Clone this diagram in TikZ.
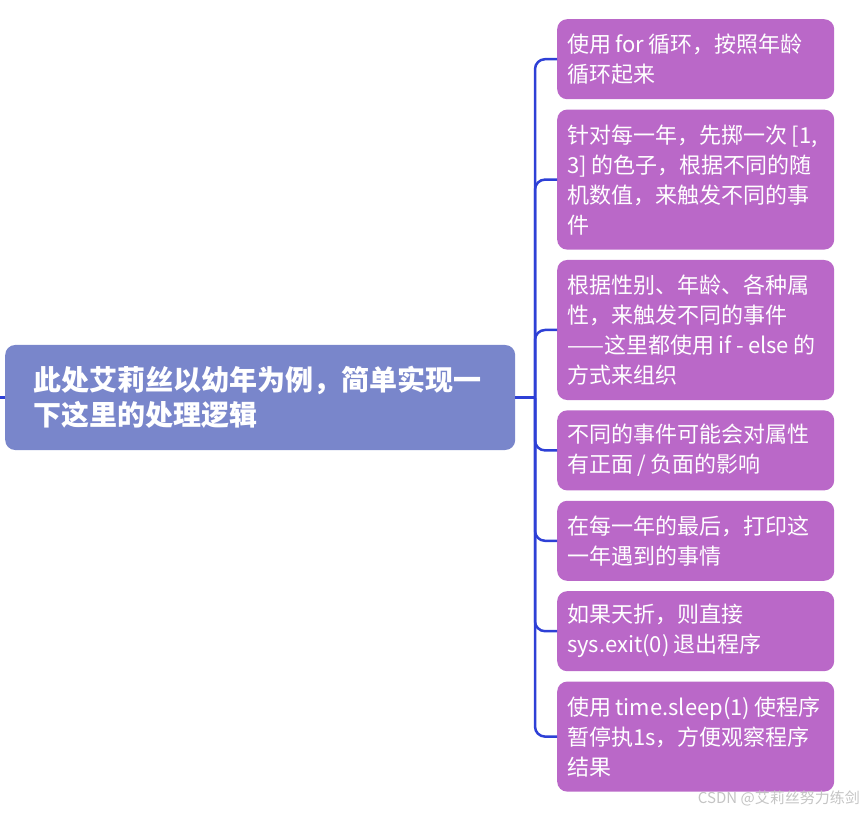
\documentclass[tikz,border=0pt]{standalone}
\usepackage{fontspec}
\setmainfont{Noto Sans CJK SC}
\usepackage{tikz}
\usetikzlibrary{positioning}
\definecolor{rootblue}{HTML}{7986CB}
\definecolor{leafpurple}{HTML}{BA68C8}
\definecolor{linkblue}{HTML}{2E40D6}
\definecolor{markgray}{HTML}{C4C4C4}
\newcommand\gap{\hspace{0.2em}}
\tikzset{
  root/.style={fill=rootblue,rounded corners=10pt,inner xsep=28pt,inner ysep=4pt,align=left,
               text width=454pt,minimum height=105pt,text=white,
               font=\fontsize{28}{35}\selectfont\bfseries},
  leaf/.style={fill=leafpurple,rounded corners=10pt,inner xsep=10pt,inner ysep=4pt,align=left,
               text width=257pt,text=white,font=\fontsize{22}{30}\selectfont},
  two/.style={minimum height=80pt},
  three/.style={minimum height=110pt},
  four/.style={minimum height=140pt},
  link/.style={draw=linkblue,line width=2.5pt},
}
\begin{document}
\begin{tikzpicture}[x=1pt,y=-1pt]
  \useasboundingbox (0,0) rectangle (863,813);
  \node[root,anchor=west] (top) at (5,397.5) {此处艾莉丝以幼年为例，简单实现一\\下这里的处理逻辑};
  \node[leaf,two,anchor=north west] (n1) at (557,19) {\mbox{使用\gap for\gap 循环，按照年龄}\\循环起来};
  \node[leaf,four,below=10pt of n1] (n2) {\mbox{针对每一年，先掷一次\gap[1,}\\\mbox{3]\gap 的色子，根据不同的随}\\机数值，来触发不同的事\\件};
  \node[leaf,four,below=10pt of n2] (n3) {根据性别、年龄、各种属\\性，来触发不同的事件\\\mbox{——这里都使用\gap if\gap -\gap else\gap 的}\\方式来组织};
  \node[leaf,two,below=10pt of n3] (n4) {不同的事件可能会对属性\\\mbox{有正面\gap/\gap 负面的影响}};
  \node[leaf,two,below=10pt of n4] (n5) {在每一年的最后，打印这\\一年遇到的事情};
  \node[leaf,two,below=10pt of n5] (n6) {如果天折，则直接\\\mbox{sys.exit(0)\gap 退出程序}};
  \node[leaf,three,below=10pt of n6] (n7) {\mbox{使用\gap time.sleep(1)\gap 使程序}\\暂停执1s，方便观察程序\\结果};
  % links
  \coordinate (up) at (0,397.5);
  \coordinate (bus) at (535,397.5);
  \draw[link] (up) -- (top.west);
  \draw[link] (top.east) -- (bus);
  \foreach \n in {1,...,7}
    \draw[link,rounded corners=10pt] (bus) |- (n\n.west);
  \node[anchor=east,text=markgray,font=\fontsize{15}{15}\selectfont,inner sep=0pt] (mark) at (860,798) {CSDN @艾莉丝努力练剑};
\end{tikzpicture}
\end{document}
